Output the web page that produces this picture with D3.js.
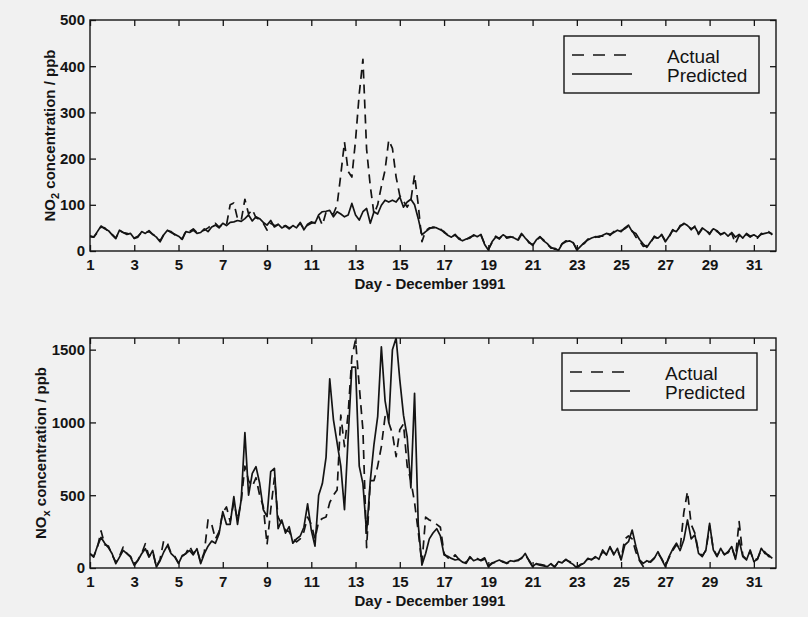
<!DOCTYPE html>
<html>
<head>
<meta charset="utf-8">
<script src="https://cdn.jsdelivr.net/npm/d3@7"></script>
<style>
  body { margin: 0; background: #f1f1f1; }
  svg { display: block; }
</style>
</head>
<body>
<svg id="chart" width="808" height="617"></svg>
<script>
// ---------------- DATA (6 samples per day) ----------------
const samplesPerDay = 6;
const dayTicks = [1, 3, 5, 7, 9, 11, 13, 15, 17, 19, 21, 23, 25, 27, 29, 31];
const no2Ticks = [0, 100, 200, 300, 400, 500];
const noxTicks = [0, 500, 1000, 1500];
const xLabel = "Day - December 1991";
const legendLabels = ["Actual", "Predicted"];

const no2Predicted = [
  31, 30, 42, 54, 48, 44,     // 1
  35, 27, 45, 40, 36, 38,     // 2
  27, 30, 42, 38, 44, 36,     // 3
  30, 20, 35, 45, 40, 36,     // 4
  32, 25, 42, 40, 45, 38,     // 5
  40, 48, 42, 52, 56, 50,     // 6
  60, 55, 62, 63, 66, 64,     // 7
  70, 78, 65, 74, 70, 62,     // 8
  56, 66, 52, 58, 50, 54,     // 9
  48, 55, 50, 62, 46, 58,     // 10
  63, 60, 78, 85, 86, 88,     // 11
  74, 85, 80, 74, 78, 103,    // 12
  78, 67, 85, 92, 60, 85,     // 13
  80, 99, 110, 106, 110, 106, // 14
  117, 95, 106, 112, 100, 70, // 15
  35, 42, 48, 52, 50, 46,     // 16
  42, 34, 30, 36, 26, 22,     // 17
  26, 28, 35, 31, 36, 14,     // 18
  2, 20, 30, 28, 35, 30,      // 19
  31, 28, 24, 38, 28, 20,     // 20
  12, 24, 31, 22, 16, 6,      // 21
  6, 1, 15, 20, 22, 18,       // 22
  2, 10, 18, 24, 28, 31,      // 23
  30, 34, 38, 36, 40, 45,     // 24
  42, 50, 56, 42, 38, 25,     // 25
  15, 8, 20, 30, 28, 35,      // 26
  20, 32, 45, 42, 53, 60,     // 27
  55, 48, 52, 38, 50, 44,     // 28
  38, 48, 44, 35, 40, 32,     // 29
  40, 30, 36, 28, 38, 32,     // 30
  35, 30, 36, 38, 40, 37      // 31
];

const no2Actual = [
  33, 30, 40, 52, 50, 42,
  36, 28, 44, 40, 38, 36,
  28, 32, 40, 40, 42, 36,
  32, 22, 36, 44, 42, 35,
  30, 26, 44, 42, 48, 40,
  42, 45, 50, 56, 60, 52,
  58, 56, 100, 104, 70, 66,
  112, 80, 90, 72, 68, 60,
  45, 60, 55, 56, 52, 55,
  50, 52, 52, 60, 48, 56,
  60, 62, 75, 56, 84, 82,
  80, 100, 165, 236, 172, 160,
  240, 340, 415, 220, 140, 80,
  100, 140, 175, 240, 222, 160,
  120, 108, 95, 110, 165, 100,
  20, 44, 50, 50, 52, 48,
  40, 35, 32, 34, 28, 24,
  25, 30, 33, 32, 34, 16,
  4, 18, 32, 26, 36, 28,
  30, 30, 22, 36, 30, 18,
  14, 22, 30, 24, 14, 8,
  4, 3, 16, 22, 20, 18,
  4, 12, 16, 26, 26, 30,
  32, 32, 40, 34, 42, 44,
  44, 48, 54, 44, 30, 22,
  10, 12, 18, 32, 26, 36,
  22, 30, 46, 40, 55, 58,
  56, 46, 54, 36, 48, 46,
  36, 50, 42, 37, 38, 34,
  38, 16, 34, 30, 36, 30,
  36, 28, 38, 36, 42, 35
];

const noxPredicted = [
  98, 75, 150, 210, 170, 140,
  98, 30, 75, 121, 98, 75,
  18, 52, 98, 133, 75, 121,
  7, 50, 110, 156, 98, 75,
  30, 85, 98, 121, 90, 133,
  30, 98, 150, 185, 170, 236,
  387, 300, 300, 490, 300, 470,
  930, 500, 650, 696, 582, 400,
  353, 662, 685, 270, 330, 240,
  284, 170, 200, 220, 280, 440,
  261, 150, 500, 580, 760, 1300,
  1020, 860, 700, 400, 900, 1380,
  1380, 700, 580, 240, 600, 850,
  1040, 1520, 1150, 1000, 1500, 1580,
  1292, 1050, 900, 550, 1200, 300,
  20, 100, 200, 240, 270, 220,
  90, 80, 66, 55, 60, 40,
  32, 78, 50, 60, 55, 70,
  9, 30, 45, 55, 40, 35,
  50, 45, 55, 66, 100, 50,
  9, 30, 20, 15, 9, 30,
  5, 44, 35, 60, 40, 25,
  0, 20, 35, 66, 55, 78,
  60, 124, 89, 147, 90, 135,
  55, 158, 181, 261, 150, 55,
  32, 50, 40, 66, 112, 60,
  9, 78, 130, 170, 120, 192,
  330, 200, 227, 100, 78, 124,
  307, 124, 78, 135, 90, 112,
  147, 60, 192, 78, 55, 124,
  44, 60, 135, 100, 89, 66
];

const noxActual = [
  98, 80, 140, 255, 160, 150,
  90, 40, 80, 144, 100, 80,
  25, 55, 100, 167, 80, 110,
  10, 60, 190, 170, 100, 80,
  35, 80, 100, 150, 100, 130,
  40, 110, 330, 300, 200, 250,
  380, 420, 320, 450, 330, 460,
  700, 600, 560, 620, 500, 420,
  160, 400, 620, 350, 300, 260,
  250, 200, 180, 200, 250, 350,
  300, 200, 320, 340, 350, 450,
  500, 536, 1050, 834, 1063, 1450,
  1567, 1250, 948, 140, 600, 600,
  700, 834, 1040, 1000, 923, 765,
  950, 990, 700, 600, 450, 250,
  30, 350, 330, 320, 300, 280,
  100, 70, 60, 90, 60, 40,
  40, 70, 55, 65, 50, 60,
  15, 35, 40, 50, 45, 30,
  45, 50, 50, 70, 90, 55,
  15, 25, 25, 20, 12, 25,
  10, 40, 40, 55, 45, 30,
  5, 25, 30, 60, 60, 70,
  70, 110, 95, 140, 100, 125,
  60, 200, 220, 200, 110, 50,
  10, 40, 45, 70, 100, 65,
  15, 70, 120, 160, 130, 380,
  525, 300, 240, 110, 85, 120,
  290, 130, 85, 125, 95, 105,
  140, 70, 318, 85, 60, 115,
  50, 65, 125, 110, 80, 70
];

// ---------------- DRAWING ----------------
const svg = d3.select("#chart");
const INK = "#141414";
const FONT = "'Liberation Sans', Arial, Helvetica, sans-serif";
const DASH = "9,6";

const x = d3.scaleLinear().domain([1, 32]).range([90, 776]);

function drawPanel(cfg) {
  const y = d3.scaleLinear().domain([0, cfg.yMax]).range([cfg.bottom, cfg.top]);
  const g = svg.append("g");
  const clipId = "clip-" + cfg.id;
  svg.append("clipPath").attr("id", clipId)
    .append("rect")
    .attr("x", x.range()[0]).attr("y", cfg.top)
    .attr("width", x.range()[1] - x.range()[0]).attr("height", cfg.bottom - cfg.top);

  const toPoints = arr => arr.map((v, i) => [1 + i / samplesPerDay, v]);
  const line = d3.line().x(d => x(d[0])).y(d => y(d[1])).curve(d3.curveLinear);

  const lines = g.append("g").attr("clip-path", `url(#${clipId})`);
  lines.append("path")
    .attr("d", line(toPoints(cfg.actual)))
    .attr("fill", "none").attr("stroke", INK).attr("stroke-width", 1.7)
    .attr("stroke-dasharray", DASH).attr("stroke-linejoin", "round");
  lines.append("path")
    .attr("d", line(toPoints(cfg.predicted)))
    .attr("fill", "none").attr("stroke", INK).attr("stroke-width", 1.7)
    .attr("stroke-linejoin", "round");

  // axes
  const styleAxis = sel => {
    sel.select(".domain").remove();
    sel.selectAll(".tick line").attr("stroke", INK).attr("stroke-width", 1.3);
    sel.selectAll("text").attr("fill", INK).attr("font-family", FONT)
      .attr("font-size", 15).attr("font-weight", "bold");
  };
  const fmt = d3.format("d");
  g.append("g").attr("transform", `translate(0,${cfg.bottom})`)
    .call(d3.axisBottom(x).tickValues(dayTicks).tickFormat(fmt)
      .tickSizeInner(-6).tickSizeOuter(0).tickPadding(8))
    .call(styleAxis);
  g.append("g").attr("transform", `translate(0,${cfg.top})`)
    .call(d3.axisTop(x).tickValues(dayTicks).tickSizeInner(-6).tickSizeOuter(0).tickFormat(""))
    .call(styleAxis);
  g.append("g").attr("transform", `translate(${x.range()[0]},0)`)
    .call(d3.axisLeft(y).tickValues(cfg.ticks).tickFormat(fmt)
      .tickSizeInner(-6).tickSizeOuter(0).tickPadding(5))
    .call(styleAxis);
  g.append("g").attr("transform", `translate(${x.range()[1]},0)`)
    .call(d3.axisRight(y).tickValues(cfg.ticks).tickSizeInner(-6).tickSizeOuter(0).tickFormat(""))
    .call(styleAxis);

  // frame
  g.append("rect")
    .attr("x", x.range()[0]).attr("y", cfg.top)
    .attr("width", x.range()[1] - x.range()[0]).attr("height", cfg.bottom - cfg.top)
    .attr("fill", "none").attr("stroke", INK).attr("stroke-width", 1.4);

  // x label
  g.append("text")
    .attr("x", 430).attr("y", cfg.bottom + 38)
    .attr("text-anchor", "middle")
    .attr("font-family", FONT).attr("font-size", 15).attr("font-weight", "bold")
    .attr("fill", INK).text(xLabel);

  // y label with subscript
  const yl = g.append("text")
    .attr("transform", `translate(${cfg.yLabelX},${(cfg.top + cfg.bottom) / 2}) rotate(-90)`)
    .attr("text-anchor", "middle")
    .attr("font-family", FONT).attr("font-size", 15).attr("font-weight", "bold")
    .attr("fill", INK);
  yl.append("tspan").text("NO");
  yl.append("tspan").attr("dy", 4).attr("font-size", 11).text(cfg.sub);
  yl.append("tspan").attr("dy", -4).text(" concentration / ppb");

  // legend
  const lg = g.append("g").attr("transform", `translate(${cfg.legendX},${cfg.legendY})`);
  lg.append("rect").attr("width", 195).attr("height", 57)
    .attr("fill", "#f1f1f1").attr("stroke", INK).attr("stroke-width", 1.4);
  lg.append("line").attr("x1", 8).attr("x2", 62).attr("y1", 19).attr("y2", 19)
    .attr("stroke", INK).attr("stroke-width", 1.7).attr("stroke-dasharray", "12,9");
  lg.append("line").attr("x1", 8).attr("x2", 68).attr("y1", 38).attr("y2", 38)
    .attr("stroke", INK).attr("stroke-width", 1.7);
  legendLabels.forEach((t, i) => {
    lg.append("text").attr("x", 103).attr("y", 27 + i * 19)
      .attr("font-family", FONT).attr("font-size", 19).attr("fill", INK).text(t);
  });
}

drawPanel({
  id: "no2", top: 20, bottom: 251, yMax: 500, ticks: no2Ticks,
  predicted: no2Predicted, actual: no2Actual, sub: "2", yLabelX: 55,
  legendX: 564, legendY: 36
});
drawPanel({
  id: "nox", top: 338, bottom: 568, yMax: 1580, ticks: noxTicks,
  predicted: noxPredicted, actual: noxActual, sub: "x", yLabelX: 46,
  legendX: 562, legendY: 353
});
</script>
</body>
</html>
